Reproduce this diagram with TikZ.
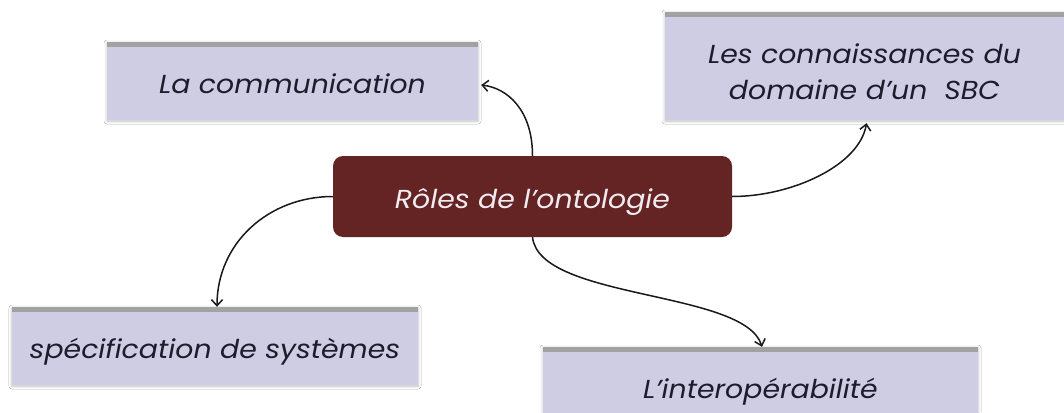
\documentclass[tikz,border=0pt]{standalone}
\usepackage{fontspec}
\setmainfont{Poppins}[FakeStretch=1.09]
\usetikzlibrary{arrows.meta,calc,shadows.blur}
\definecolor{lav}{HTML}{CECDE4}
\definecolor{maroon}{HTML}{632423}
\definecolor{bar}{HTML}{A2A2A2}
\definecolor{ink}{HTML}{1C1C2C}
\definecolor{light}{HTML}{F2ECF2}
\tikzset{
  lbox/.style={rectangle, fill=lav, inner sep=0pt, align=center, text=ink,
    font=\fontsize{26}{36}\selectfont\itshape,
    blur shadow={shadow xshift=0pt, shadow yshift=-1pt, shadow blur radius=3pt, shadow opacity=25}},
  oneline/.style={text height=24pt, text depth=0pt},
  cbox/.style={rectangle, rounded corners=10pt, fill=maroon, inner sep=0pt, text=light,
    font=\fontsize{26}{36}\selectfont\itshape},
  conn/.style={line width=1.5pt, draw=black!90, -{Straight Barb[length=6pt,width=11pt,line width=1.5pt]}},
}
\begin{document}
\begin{tikzpicture}[x=1pt,y=-1pt]
\useasboundingbox (0,0) rectangle (1064,412);
\fill[white] (0,0) rectangle (1064,412);
% boxes
\node[lbox, oneline, minimum width=371pt, minimum height=78pt] (com) at (292.5,81) {La communication};
\node[lbox, minimum width=399pt, minimum height=108pt] (sbc) at (864.5,66) {\rule{0pt}{31pt}Les connaissances du\\domaine d'un~ SBC};
\node[lbox, oneline, minimum width=406pt, minimum height=78pt] (spec) at (215,346) {spécification de systèmes};
\node[lbox, oneline, minimum width=435pt, minimum height=78pt] (inter) at (760.5,386) {L'interopérabilité};
\node[cbox, oneline, minimum width=399pt, minimum height=81pt] (cen) at (532.5,196.5) {Rôles de l'ontologie};
% top bars
\foreach \n in {com,sbc,spec,inter}{
  \fill[bar] (\n.north west) rectangle ([yshift=-5pt]\n.north east);
}
% connectors
\draw[conn] (cen.north) .. controls ($(cen.north)+(0,-46)$) and ($(com.east)+(29,7)$) .. ($(com.east)+(3,4)$);
\draw[conn] (cen.east) .. controls ($(cen.east)+(60,0)$) and ($(sbc.south)+(-5,45)$) .. ($(sbc.south)+(2,3)$);
\draw[conn] (cen.west) .. controls ($(cen.west)+(-64,0)$) and ($(spec.north)+(2,-64)$) .. ($(spec.north)+(2,0)$);
\draw[conn] (cen.south) .. controls ($(cen.south)+(7,63)$) and ($(inter.north)+(-16,-57)$) .. ($(inter.north)+(1.5,0)$);
\end{tikzpicture}
\end{document}
